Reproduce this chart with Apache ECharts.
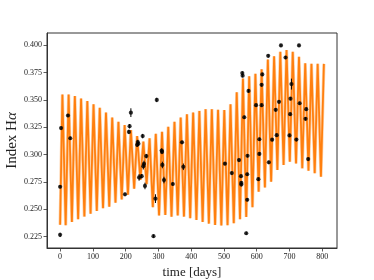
<!DOCTYPE html>
<html>
<head>
<meta charset="utf-8">
<script src="https://cdn.jsdelivr.net/npm/echarts@6/dist/echarts.min.js"></script>
<style>
html,body{margin:0;padding:0;background:#fff;}
#chart{width:374px;height:280px;}
</style>
</head>
<body>
<div id="chart"></div>
<script>
// Model curve: alternating troughs and peaks
const troughDays = [0,17,36,55,74,93,112,131,150,169,188,207,226,245,264,283,302,321,340,359,378,397,416,435,454,473,492,511,530,549,568,587,606,625,644,663,682,701,720,739,758,777,796];
const troughValues = [0.236,0.2355,0.2385,0.241,0.2434,0.246,0.2485,0.251,0.2525,0.256,0.259,0.2635,0.269,0.277,0.273,0.252,0.2445,0.2449,0.2434,0.2445,0.2434,0.242,0.2403,0.2385,0.237,0.2358,0.2352,0.2356,0.2373,0.241,0.243,0.252,0.2662,0.270,0.2753,0.286,0.2905,0.2935,0.292,0.2875,0.2853,0.283,0.2798];
const peakDays = [7,26,45,64,83,102,121,140,159,178,197,216,235,254,273,292,311,330,349,368,387,406,425,444,463,482,501,520,539,558,577,596,615,634,653,672,691,710,729,748,767,786,805];
const peakValues = [0.355,0.355,0.3535,0.3514,0.349,0.346,0.3428,0.3386,0.334,0.330,0.327,0.3225,0.317,0.312,0.315,0.319,0.321,0.3255,0.330,0.334,0.337,0.3386,0.340,0.3416,0.3416,0.341,0.3407,0.346,0.357,0.3696,0.3717,0.374,0.378,0.387,0.390,0.394,0.3957,0.394,0.3895,0.3836,0.383,0.383,0.383];

// Observations
const obsDays = [0,0,3,24,31,198,210,212,216,235,237,239,241,249,252,254,256,259,263,285,291,295,310,311,312,317,344,372,376,503,524,546,552,553,553,556,557,562,568,571,571,572,575,598,605,608,608,615,615,617,635,637,647,658,661,668,674,688,700,702,703,706,721,729,731,749,751,757];
const obsValues = [0.2267,0.2707,0.3243,0.3358,0.3150,0.2638,0.3208,0.3260,0.3384,0.3090,0.3116,0.3100,0.2792,0.2803,0.3170,0.2895,0.2915,0.2714,0.2987,0.2255,0.2598,0.3500,0.3038,0.3025,0.2906,0.2768,0.2732,0.3113,0.2889,0.2918,0.2832,0.2951,0.2803,0.2742,0.2727,0.3746,0.3722,0.3342,0.2282,0.2588,0.2821,0.2990,0.3583,0.3452,0.2776,0.3007,0.3141,0.3452,0.3638,0.3733,0.3903,0.2930,0.3137,0.3410,0.3178,0.3483,0.3998,0.3888,0.3176,0.3370,0.3512,0.3645,0.3138,0.3998,0.3470,0.3328,0.3416,0.2960];
const obsErrors = [0.002,0.0015,0.0015,0.0015,0.0015,0.0015,0.002,0.002,0.004,0.002,0.002,0.002,0.003,0.002,0.002,0.003,0.003,0.003,0.002,0.0015,0.004,0.002,0.002,0.002,0.003,0.003,0.0015,0.0015,0.003,0.0015,0.0015,0.0015,0.0015,0.0015,0.0015,0.0015,0.0015,0.0015,0.0015,0.0015,0.0015,0.0015,0.0015,0.0015,0.0015,0.0015,0.0015,0.0015,0.0015,0.0015,0.0015,0.0015,0.0015,0.0015,0.0015,0.0015,0.0015,0.0015,0.0015,0.0015,0.0015,0.005,0.0015,0.0015,0.0015,0.0015,0.0015,0.0015];

// Tick labels
const xTicks = [0,100,200,300,400,500,600,700,800];
const yTicks = [0.225,0.250,0.275,0.300,0.325,0.350,0.375,0.400];

const modelData = [];
for (let i = 0; i < troughDays.length; i++) {
  modelData.push([troughDays[i], troughValues[i]]);
  modelData.push([peakDays[i], peakValues[i]]);
}
const pointData = obsDays.map((d, i) => [d, obsValues[i]]);
const errData = obsDays.map((d, i) => [d, obsValues[i] - obsErrors[i], obsValues[i] + obsErrors[i]]);

const serif = 'Liberation Serif';
const chart = echarts.init(document.getElementById('chart'), null, {renderer: 'canvas'});
chart.setOption({
  animation: false,
  backgroundColor: '#fff',
  grid: {left: 47, right: 37, top: 33, bottom: 32, outerBoundsMode: 'none', containLabel: false, show: true, borderColor: '#333', borderWidth: 1, backgroundColor: 'transparent'},
  xAxis: {
    type: 'value', min: -40, max: 845,
    name: 'time [days]', nameLocation: 'middle', nameGap: 18, nameMoveOverlap: false,
    nameTextStyle: {fontFamily: serif, fontSize: 13, color: '#222'},
    axisLine: {show: true, onZero: false, lineStyle: {color: '#333', width: 1}},
    axisTick: {show: true, inside: false, length: 3.5, customValues: xTicks, lineStyle: {color: '#333', width: 0.8}},
    axisLabel: {customValues: xTicks, margin: 5, fontFamily: serif, fontSize: 8, color: '#222'},
    splitLine: {show: false}
  },
  yAxis: {
    type: 'value', min: 0.2147, max: 0.4112,
    name: 'Index H{i|α}', nameLocation: 'middle', nameGap: 27, nameRotate: 90, nameMoveOverlap: false,
    nameTextStyle: {fontFamily: serif, fontSize: 15, color: '#222', rich: {i: {fontFamily: serif, fontSize: 15, fontStyle: 'italic', color: '#222'}}},
    axisLine: {show: true, onZero: false, lineStyle: {color: '#333', width: 1}},
    axisTick: {show: true, inside: false, length: 3.5, customValues: yTicks, lineStyle: {color: '#333', width: 0.8}},
    axisLabel: {customValues: yTicks, margin: 5, fontFamily: serif, fontSize: 8, color: '#222', formatter: v => v.toFixed(3)},
    splitLine: {show: false}
  },
  series: [
    {
      type: 'line', data: modelData, showSymbol: false, symbol: 'none',
      lineStyle: {color: '#ffa552', width: 3.2, opacity: 0.5}, z: 1, silent: true
    },
    {
      type: 'line', data: modelData, showSymbol: false, symbol: 'none',
      lineStyle: {color: '#ff7f0e', width: 1.8}, z: 2, silent: true
    },
    {
      type: 'custom', data: errData, z: 3, silent: true,
      renderItem: function (params, api) {
        const lo = api.coord([api.value(0), api.value(1)]);
        const hi = api.coord([api.value(0), api.value(2)]);
        return {type: 'line', shape: {x1: lo[0], y1: lo[1], x2: hi[0], y2: hi[1]}, style: {stroke: '#000', lineWidth: 1}};
      },
      encode: {x: 0, y: [1, 2]}
    },
    {
      type: 'scatter', data: pointData, symbol: 'circle', symbolSize: 4.2,
      itemStyle: {color: '#000'}, z: 4, silent: true
    }
  ]
});
</script>
</body>
</html>
